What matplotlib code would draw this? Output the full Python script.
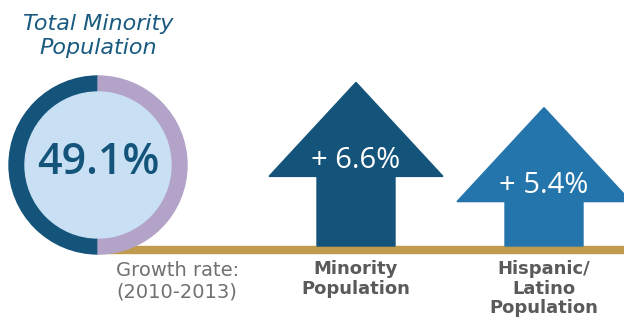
import matplotlib
matplotlib.use("Agg")
import matplotlib.pyplot as plt
from matplotlib.patches import Wedge, Circle, Rectangle, Polygon

# data
total_minority_share = 49.1
group_labels = ["Minority\nPopulation", "Hispanic/\nLatino\nPopulation"]
growth_rates = [6.6, 5.4]
arrow_colors = ["#14547a", "#2475ab"]
title_text = "Total Minority\nPopulation"
note_text = "Growth rate:\n(2010-2013)"

# colours
navy = "#14547a"
lavender = "#b3a3c9"
light_blue = "#c9e0f4"
gold = "#bf9a4f"
grey = "#5a5a5a"

fig = plt.figure(figsize=(6.24, 3.24), dpi=100)
ax = fig.add_axes([0, 0, 1, 1])
ax.set_xlim(0, 624)
ax.set_ylim(0, 324)
ax.set_aspect("equal")
ax.axis("off")

# baseline bar
base_y = 78
ax.add_patch(Rectangle((98, base_y - 7), 540, 7, color=gold, zorder=1))

# donut (drawn as two halves like the original graphic)
cx, cy, R, w = 98, 159, 89, 16
ax.add_patch(Wedge((cx, cy), R, 90, 270, width=w, color=navy, zorder=2))
ax.add_patch(Wedge((cx, cy), R, 270, 450, width=w, color=lavender, zorder=2))
ax.add_patch(Circle((cx, cy), R - w, color=light_blue, zorder=2))
ax.text(cx, cy + 2, f"{total_minority_share}%", ha="center", va="center",
        fontsize=31, color=navy, family="Open Sans", fontweight="semibold", zorder=3)

ax.text(cx, 288, title_text, ha="center", va="center", fontsize=16,
        color="#1a5a80", family="DejaVu Sans", style="italic",
        linespacing=1.2)

# arrows
centers = [356, 544]
head_h, head_hw, shaft_hw = 94, 87, 39
for xc, val, col, lab in zip(centers, growth_rates, arrow_colors, group_labels):
    top = base_y + 25 + 21 * val
    hb = top - head_h
    pts = [(xc - shaft_hw, base_y), (xc - shaft_hw, hb), (xc - head_hw, hb),
           (xc, top), (xc + head_hw, hb), (xc + shaft_hw, hb), (xc + shaft_hw, base_y)]
    ax.add_patch(Polygon(pts, closed=True, color=col, zorder=2))
    ax.text(xc, hb + 16, f"+ {val}%", ha="center", va="center", fontsize=21,
            color="white", family="Open Sans", zorder=3)
    ax.text(xc, 64, lab, ha="center", va="top", fontsize=13, color=grey,
            family="DejaVu Sans", fontweight="bold", linespacing=1.12)

ax.text(116, 63, note_text, ha="left", va="top", fontsize=14, color="#707070",
        family="DejaVu Sans", linespacing=1.2)

fig.savefig("out.png", dpi=100)
